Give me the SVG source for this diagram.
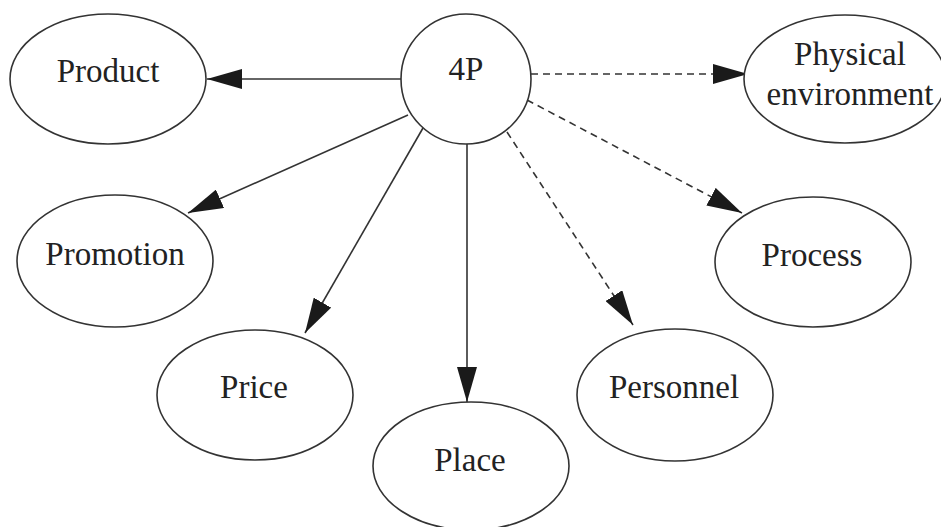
<svg xmlns="http://www.w3.org/2000/svg" width="941" height="527" viewBox="0 0 941 527">
<style>
.node ellipse, .node circle { fill: #fff; stroke: #333; stroke-width: 1.6; }
.node text { font-family: 'Liberation Serif', Tinos, Times, 'DejaVu Serif', serif; font-size: 33px; fill: #222; text-anchor: middle; }
.edge { stroke: #333; stroke-width: 1.6; fill: none; }
.dashed { stroke-dasharray: 7 5; }
</style>
<defs>
<marker id="arrow" viewBox="0 0 35 20" refX="35" refY="10" markerWidth="35" markerHeight="20" markerUnits="userSpaceOnUse" orient="auto">
<path d="M0,0 L35,10 L0,20 z" fill="#1a1a1a"/>
</marker>
</defs>
<rect width="941" height="527" fill="#fff"/>
<g id="connectors">
<line class="edge" x1="401" y1="79" x2="207" y2="79" marker-end="url(#arrow)"/>
<line class="edge" x1="408" y1="115" x2="188" y2="213" marker-end="url(#arrow)"/>
<line class="edge" x1="423" y1="128" x2="305" y2="333" marker-end="url(#arrow)"/>
<line class="edge" x1="467" y1="144" x2="467" y2="402" marker-end="url(#arrow)"/>
<line class="edge dashed" x1="531" y1="74" x2="748" y2="74" marker-end="url(#arrow)"/>
<line class="edge dashed" x1="527" y1="100" x2="742" y2="213" marker-end="url(#arrow)"/>
<line class="edge dashed" x1="507" y1="132" x2="633" y2="325" marker-end="url(#arrow)"/>
</g>
<g id="node-4p" class="node">
<circle cx="466" cy="79" r="65"/>
<text x="466" y="80" font-family="Liberation Serif, serif">4P</text>
</g>
<g id="node-product" class="node">
<ellipse cx="108" cy="79" rx="98" ry="65"/>
<text x="108" y="82">Product</text>
</g>
<g id="node-physical" class="node">
<ellipse cx="845" cy="79" rx="101" ry="64"/>
<text x="850" y="65">Physical</text>
<text x="850" y="105">environment</text>
</g>
<g id="node-promotion" class="node">
<ellipse cx="115" cy="261" rx="98" ry="66"/>
<text x="115" y="265">Promotion</text>
</g>
<g id="node-process" class="node">
<ellipse cx="813" cy="262" rx="98" ry="65"/>
<text x="812" y="266">Process</text>
</g>
<g id="node-price" class="node">
<ellipse cx="255" cy="395" rx="98" ry="65"/>
<text x="254" y="398">Price</text>
</g>
<g id="node-place" class="node">
<ellipse cx="471" cy="466" rx="98" ry="64"/>
<text x="470" y="471">Place</text>
</g>
<g id="node-personnel" class="node">
<ellipse cx="675" cy="395" rx="98" ry="66"/>
<text x="674" y="398">Personnel</text>
</g>
</svg>
